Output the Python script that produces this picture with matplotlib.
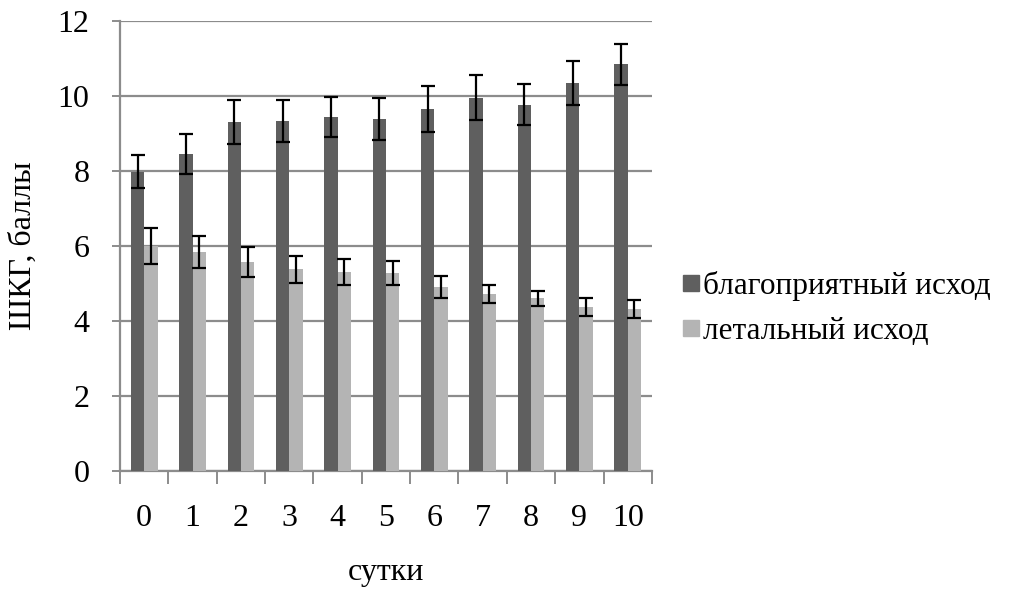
import numpy as np
import matplotlib.pyplot as plt
from matplotlib.lines import Line2D

plt.rcParams['font.family'] = ['Liberation Serif', 'DejaVu Serif']

# сутки наблюдения и средние значения ШКГ
days = ['0', '1', '2', '3', '4', '5', '6', '7', '8', '9', '10']
good = [7.98, 8.44, 9.30, 9.33, 9.44, 9.38, 9.65, 9.95, 9.76, 10.34, 10.84]
good_err = [0.44, 0.53, 0.58, 0.55, 0.53, 0.57, 0.62, 0.60, 0.55, 0.59, 0.54]
lethal = [6.00, 5.84, 5.57, 5.37, 5.30, 5.28, 4.91, 4.72, 4.61, 4.37, 4.32]
lethal_err = [0.48, 0.43, 0.39, 0.37, 0.35, 0.32, 0.29, 0.23, 0.20, 0.23, 0.23]

dark = '#5f5f5f'
light = '#b4b4b4'
grid_c = '#8c8c8c'
fs = 23

fig = plt.figure(figsize=(10.13, 5.92), dpi=100)
ax = fig.add_axes([0.1185, 0.2044, 0.525, 0.7606])

x = np.arange(len(days))
w = 0.275
err_kw = dict(ecolor='black', capsize=5, elinewidth=1.6, capthick=1.6)
ax.bar(x - w / 2, good, w, color=dark, yerr=good_err, error_kw=err_kw, zorder=3)
ax.bar(x + w / 2, lethal, w, color=light, yerr=lethal_err, error_kw=err_kw, zorder=3)

ax.set_ylim(0, 12)
ax.set_yticks(range(0, 13, 2))
ax.set_xlim(-0.5, len(days) - 0.5)
ax.yaxis.grid(True, color=grid_c, linewidth=1.6, zorder=0)
ax.set_axisbelow(True)

# деления между группами, подписи по центру
ax.set_xticks(np.arange(-0.5, len(days), 1.0))
ax.set_xticklabels([])
ax.set_xticks(x, minor=True)
ax.set_xticklabels(days, minor=True)
ax.tick_params(axis='x', which='major', length=9, width=1.4, color=grid_c, direction='out')
ax.tick_params(axis='x', which='minor', length=0, pad=24, labelsize=fs)
ax.tick_params(axis='y', length=6, width=1.4, color=grid_c, pad=16, labelsize=fs)

for s in ['top', 'right']:
    ax.spines[s].set_visible(False)
for s in ['left', 'bottom']:
    ax.spines[s].set_color(grid_c)
    ax.spines[s].set_linewidth(1.6)

ax.set_xlabel('сутки', fontsize=fs, labelpad=18)
ax.set_ylabel('ШКГ, баллы', fontsize=fs, labelpad=14)

handles = [Line2D([], [], marker='s', linestyle='none', color=dark, markersize=11.5),
           Line2D([], [], marker='s', linestyle='none', color=light, markersize=11.5)]
fig.legend(handles, ['благоприятный исход', 'летальный исход'],
           loc='center left', bbox_to_anchor=(0.645, 0.479), frameon=False,
           fontsize=22.5, handlelength=0.6, handletextpad=0.1, labelspacing=0.5)

fig.savefig('out.png', dpi=100)
